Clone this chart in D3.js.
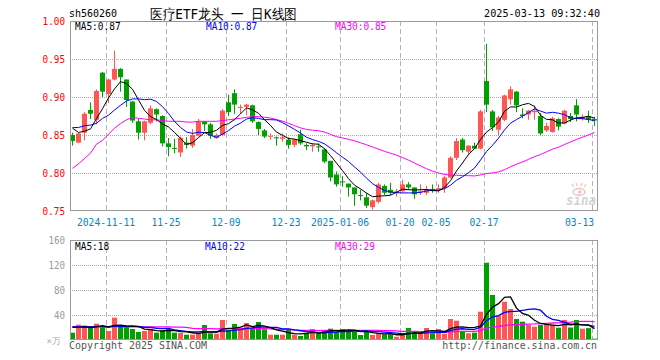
<!DOCTYPE html>
<html>
<head>
<meta charset="utf-8">
<script src="https://cdn.jsdelivr.net/npm/d3@7"></script>
<style>
  body { margin: 0; background: #fff; }
  svg { display: block; }
  text { font-family: "DejaVu Sans Mono", "Liberation Mono", monospace; }
</style>
</head>
<body>
<div id="chart"></div>
<script>
// trading days shown on the chart
var dates = [
  "2024-11-01","2024-11-04","2024-11-05","2024-11-06","2024-11-07","2024-11-08",
  "2024-11-11","2024-11-12","2024-11-13","2024-11-14","2024-11-15",
  "2024-11-18","2024-11-19","2024-11-20","2024-11-21","2024-11-22",
  "2024-11-25","2024-11-26","2024-11-27","2024-11-28","2024-11-29",
  "2024-12-02","2024-12-03","2024-12-04","2024-12-05","2024-12-06",
  "2024-12-09","2024-12-10","2024-12-11","2024-12-12","2024-12-13",
  "2024-12-16","2024-12-17","2024-12-18","2024-12-19","2024-12-20",
  "2024-12-23","2024-12-24","2024-12-25","2024-12-26","2024-12-27",
  "2024-12-30","2024-12-31","2025-01-02","2025-01-03",
  "2025-01-06","2025-01-07","2025-01-08","2025-01-09","2025-01-10",
  "2025-01-13","2025-01-14","2025-01-15","2025-01-16","2025-01-17",
  "2025-01-20","2025-01-21","2025-01-22","2025-01-23","2025-01-24",
  "2025-01-27","2025-02-05","2025-02-06","2025-02-07",
  "2025-02-10","2025-02-11","2025-02-12","2025-02-13","2025-02-14",
  "2025-02-17","2025-02-18","2025-02-19","2025-02-20","2025-02-21",
  "2025-02-24","2025-02-25","2025-02-26","2025-02-27","2025-02-28",
  "2025-03-03","2025-03-04","2025-03-05","2025-03-06","2025-03-07",
  "2025-03-10","2025-03-11","2025-03-12","2025-03-13"
];

var openP = [
  0.850,0.840,0.853,0.883,0.870,0.932,0.904,0.923,0.937,0.923,0.894,
  0.868,0.853,0.866,0.884,0.875,0.839,0.833,0.827,0.840,0.836,
  0.849,0.868,0.864,0.846,0.850,0.893,0.905,0.886,0.887,0.889,
  0.867,0.856,0.848,0.847,0.845,0.844,0.837,0.851,0.837,0.835,
  0.835,0.831,0.816,0.798,0.789,0.786,0.781,0.771,0.768,0.755,
  0.762,0.783,0.778,0.774,0.776,0.785,0.781,0.776,0.774,0.779,
  0.778,0.780,0.794,0.820,0.844,0.828,0.836,0.832,0.921,0.881,
  0.857,0.870,0.897,0.907,0.877,0.877,0.880,0.875,0.856,0.854,
  0.871,0.865,0.875,0.889,0.871,0.874,0.871
];
var highP = [
  0.853,0.853,0.880,0.893,0.910,0.933,0.924,0.961,0.938,0.923,0.895,
  0.871,0.869,0.889,0.885,0.876,0.846,0.845,0.848,0.847,0.858,
  0.871,0.868,0.866,0.852,0.884,0.903,0.910,0.890,0.891,0.890,
  0.868,0.858,0.852,0.848,0.852,0.847,0.845,0.857,0.839,0.839,
  0.839,0.833,0.816,0.802,0.796,0.786,0.781,0.778,0.774,0.765,
  0.787,0.785,0.787,0.779,0.791,0.788,0.781,0.785,0.783,0.785,
  0.785,0.796,0.822,0.846,0.846,0.837,0.840,0.883,0.970,0.883,
  0.875,0.903,0.914,0.908,0.885,0.883,0.889,0.879,0.866,0.874,
  0.872,0.883,0.879,0.897,0.877,0.882,0.874
];
var lowP = [
  0.836,0.839,0.843,0.871,0.864,0.900,0.892,0.922,0.907,0.887,0.866,
  0.844,0.843,0.864,0.868,0.835,0.822,0.826,0.821,0.832,0.833,
  0.848,0.855,0.845,0.845,0.849,0.875,0.878,0.878,0.876,0.866,
  0.850,0.846,0.844,0.836,0.841,0.832,0.834,0.837,0.830,0.828,
  0.828,0.813,0.789,0.782,0.782,0.769,0.757,0.764,0.754,0.752,
  0.760,0.771,0.771,0.769,0.774,0.778,0.766,0.771,0.771,0.774,
  0.774,0.774,0.793,0.817,0.827,0.823,0.832,0.831,0.880,0.855,
  0.849,0.868,0.890,0.880,0.872,0.870,0.870,0.850,0.854,0.853,
  0.856,0.864,0.867,0.868,0.869,0.866,0.862
];
var closeP = [
  0.842,0.852,0.878,0.878,0.908,0.907,0.923,0.937,0.926,0.896,0.869,
  0.853,0.868,0.885,0.877,0.839,0.834,0.832,0.846,0.837,0.850,
  0.868,0.864,0.849,0.850,0.882,0.880,0.890,0.887,0.890,0.868,
  0.858,0.848,0.849,0.846,0.847,0.837,0.844,0.839,0.835,0.837,
  0.834,0.815,0.794,0.785,0.788,0.781,0.772,0.770,0.757,0.764,
  0.785,0.774,0.774,0.776,0.785,0.781,0.772,0.776,0.778,0.777,
  0.780,0.794,0.820,0.842,0.830,0.836,0.832,0.881,0.890,0.860,
  0.873,0.902,0.910,0.889,0.875,0.882,0.882,0.852,0.862,0.872,
  0.861,0.882,0.871,0.877,0.874,0.870,0.869
];
// volume, 万手
var volume = [
  11.7,24.5,23.2,20.3,26.1,20.3,14.4,35.7,21.3,20.8,17.6,
  12.8,14.4,18.1,11.7,14.9,18.1,11.7,11.2,8.5,8.5,
  10.7,24,10.7,10.1,32,16,25.6,19.7,27.2,17.6,
  28.8,17.1,8.5,8.5,8.5,17.1,8.5,6.4,11.7,17.6,
  10.7,16,18.1,13.3,17.6,16,13.3,8,13.3,8,
  10.7,9.1,9.1,5.3,8,19.2,14.4,10.7,19.2,10.7,
  17.6,10.1,33.6,30.9,13.3,10.7,11.7,45.3,123.7,72,
  38.4,61.3,49.6,33.6,29.3,24,21.3,24,25.6,24,
  19.7,32,20,32,18.1,19,2.1
];

// sessions before the visible range (estimated from where the MA lines start)
var prevClose = [0.850,0.855,0.870,0.884,0.843,0.880,0.870,0.863,0.840];
var prevVolume = [22,25,21,19,24,20,16,40,22,21,18,14,15,19,13,16,20,14,24,48,
                  22,19,24,20,21.5,24,20,27,18.8];
// MA30 of price for the first sessions
var ma30Early = [0.806,0.812,0.819,0.826,0.838,0.843,0.851,0.859,0.865,0.870,0.873,
                 0.872,0.871,0.870,0.870,0.869,0.868,0.868,0.868,0.867,0.867,
                 0.868,0.868,0.868,0.868,0.869,0.870,0.871,0.872];

var tickDates = ["2024-11-11","2024-11-25","2024-12-09","2024-12-23","2025-01-06",
                 "2025-01-20","2025-02-05","2025-02-17","2025-03-13"];
var tickLabels = ["2024-11-11","11-25","12-09","12-23","2025-01-06",
                  "01-20","02-05","02-17","03-13"];
var priceTicks = [1.00,0.95,0.90,0.85,0.80,0.75];
var volTicks = [160,120,80,40];

var stockCode = "sh560260";
var chartTitle = "医疗ETF龙头 一 日K线图";
var timeStamp = "2025-03-13 09:32:40";

// moving average with some history in front
function movingAvg(values, history, n) {
  var all = history.concat(values);
  return values.map(function(v, i) {
    var end = history.length + i + 1;
    if (end < n) return null;
    return d3.mean(all.slice(end - n, end));
  });
}

var ma5 = movingAvg(closeP, prevClose, 5);
var ma10 = movingAvg(closeP, prevClose, 10);
var ma30 = closeP.map(function(c, i) {
  return i < ma30Early.length ? ma30Early[i] : d3.mean(closeP.slice(i - 29, i + 1));
});
var vma5 = movingAvg(volume, prevVolume, 5);
var vma10 = movingAvg(volume, prevVolume, 10);
var vma30 = movingAvg(volume, prevVolume, 30);

// layout
var svgWidth = 660, svgHeight = 360;
var left = 70, right = 598;
var pTop = 21, pBottom = 211;
var vTop = 240, vBottom = 340;
var red = "#ff5555", green = "#00a000";

var svg = d3.select("#chart").append("svg")
  .attr("width", svgWidth)
  .attr("height", svgHeight);

var x = d3.scaleBand().domain(dates).range([left, right])
  .paddingInner(1 / 6).paddingOuter(1 / 12);
var y = d3.scaleLinear().domain([0.75, 1.0]).range([pBottom, pTop]);
var yv = d3.scaleLinear().domain([0, 160]).range([vBottom, vTop]);

function bx(d) { return Math.floor(x(d)); }
function cx(d) { return Math.floor(x(d)) + 2.5; }

function mono(sel, cw) {
  sel.attr("textLength", function() { return this.textContent.length * cw; })
    .attr("lengthAdjust", "spacingAndGlyphs");
}

// grid
function grid(top, bottom, yScale, values) {
  svg.append("g").selectAll("line").data(values).enter().append("line")
    .attr("x1", left).attr("x2", right)
    .attr("y1", d => Math.round(yScale(d)) + 0.5)
    .attr("y2", d => Math.round(yScale(d)) + 0.5)
    .attr("stroke", "#aaa").attr("stroke-dasharray", "1,1");
  svg.append("g").selectAll("line").data(tickDates).enter().append("line")
    .attr("x1", d => bx(d) + 0.5).attr("x2", d => bx(d) + 0.5)
    .attr("y1", top).attr("y2", bottom)
    .attr("stroke", "#b4b4b4").attr("stroke-dasharray", "5,3");
}
grid(pTop, pBottom, y, [0.95, 0.90, 0.85, 0.80]);
grid(vTop, vBottom, yv, [120, 80, 40]);

// sina watermark
var logo = svg.append("g");
logo.append("ellipse").attr("cx", 579).attr("cy", 192).attr("rx", 6).attr("ry", 3.5)
  .attr("fill", "none").attr("stroke", "#f5c0c0").attr("stroke-width", 1.5);
logo.append("circle").attr("cx", 580).attr("cy", 192).attr("r", 1.8).attr("fill", "#f5c0c0");
logo.append("path").attr("d", "M574,187 L572,184 M577,186 L576,183 M581,186 L582,183 M584,187 L586,184")
  .attr("stroke", "#f5c0c0").attr("stroke-width", 1.2);
logo.append("text").attr("x", 566).attr("y", 205)
  .attr("font-family", "'Liberation Sans', Arial, sans-serif")
  .attr("font-style", "italic").attr("font-weight", "bold").attr("font-size", 14)
  .attr("fill", "#d4d4d4").attr("textLength", 30).attr("lengthAdjust", "spacingAndGlyphs")
  .text("sina");

// candles
var idx = d3.range(dates.length);
var candles = svg.append("g").selectAll("g").data(idx).enter().append("g");
candles.append("line")
  .attr("x1", i => cx(dates[i])).attr("x2", i => cx(dates[i]))
  .attr("y1", i => y(highP[i])).attr("y2", i => y(lowP[i]))
  .attr("stroke", i => closeP[i] >= openP[i] ? red : green);
candles.append("rect")
  .attr("x", i => bx(dates[i]))
  .attr("width", 5)
  .attr("y", i => y(Math.max(openP[i], closeP[i])))
  .attr("height", i => Math.max(1, Math.abs(y(openP[i]) - y(closeP[i]))))
  .attr("fill", i => closeP[i] >= openP[i] ? red : green);

// volume bars
svg.append("g").selectAll("rect").data(idx).enter().append("rect")
  .attr("x", i => bx(dates[i]))
  .attr("width", 5)
  .attr("y", i => yv(volume[i]))
  .attr("height", i => vBottom - yv(volume[i]))
  .attr("fill", i => closeP[i] >= openP[i] ? red : green);

// MA lines
function maLine(values, yScale, color, w) {
  var line = d3.line()
    .defined(d => d[1] != null)
    .x(d => cx(d[0]))
    .y(d => yScale(d[1]));
  svg.append("path")
    .datum(dates.map((d, i) => [d, values[i]]))
    .attr("d", line)
    .attr("fill", "none")
    .attr("stroke", color)
    .attr("stroke-width", w);
}
maLine(ma30, y, "#ff00ff", 1);
maLine(ma10, y, "#0000ff", 1);
maLine(ma5, y, "#000000", 1);
maLine(vma30, yv, "#ff00ff", 1.3);
maLine(vma10, yv, "#0000ff", 1.3);
maLine(vma5, yv, "#000000", 1.3);

// frames
svg.append("rect").attr("x", left + 0.5).attr("y", pTop + 0.5)
  .attr("width", right - left - 1).attr("height", pBottom - pTop - 1)
  .attr("fill", "none").attr("stroke", "#999");
svg.append("rect").attr("x", left + 0.5).attr("y", vTop + 0.5)
  .attr("width", right - left - 1).attr("height", vBottom - vTop - 1)
  .attr("fill", "none").attr("stroke", "#999");

// axes
var yAxis = svg.append("g")
  .attr("transform", `translate(${left}, 0)`)
  .call(d3.axisLeft(y).tickValues(priceTicks).tickFormat(d3.format(".2f")).tickSize(0).tickPadding(5));
yAxis.select(".domain").remove();
yAxis.selectAll("text").attr("fill", "#ff0000").attr("font-size", 10)
  .attr("font-family", "DejaVu Sans Mono, monospace").call(mono, 5.6);

var vAxis = svg.append("g")
  .attr("transform", `translate(${left}, 0)`)
  .call(d3.axisLeft(yv).tickValues(volTicks).tickSize(0).tickPadding(5));
vAxis.select(".domain").remove();
vAxis.selectAll("text").attr("fill", "#999").attr("font-size", 10)
  .attr("font-family", "DejaVu Sans Mono, monospace").call(mono, 5.5);
svg.append("text").attr("x", 61).attr("y", 344).attr("text-anchor", "end")
  .attr("font-family", "'Noto Sans CJK SC', sans-serif").attr("font-size", 9)
  .attr("fill", "#aaa").text("×万");

var xAxis = svg.append("g")
  .attr("transform", `translate(-3, ${pBottom})`)
  .call(d3.axisBottom(x).tickValues(tickDates)
    .tickFormat((d, i) => tickLabels[i]).tickSize(0));
xAxis.select(".domain").remove();
xAxis.selectAll("text")
  .attr("y", 14.5).attr("dy", 0)
  .attr("fill", "#0088cc").attr("font-size", 11)
  .attr("font-family", "DejaVu Sans Mono, monospace").call(mono, 5.8);
xAxis.selectAll(".tick").filter((d, i) => i === tickDates.length - 1)
  .select("text").attr("text-anchor", "end").attr("x", 2);

// header
function label(txt, px, py, color, cw, size, anchor) {
  svg.append("text").attr("x", px).attr("y", py)
    .attr("fill", color).attr("font-size", size || 10)
    .attr("text-anchor", anchor || "start")
    .text(txt).call(mono, cw);
}
label(stockCode, 69, 17, "#000", 6, 10.5);
svg.append("text").attr("x", 150).attr("y", 19)
  .attr("font-family", "'Noto Sans CJK SC', sans-serif").attr("font-size", 14)
  .attr("fill", "#000").attr("textLength", 147).attr("lengthAdjust", "spacingAndGlyphs")
  .text(chartTitle);
label(timeStamp, 600, 17, "#000", 6.1, 10.5, "end");

var f2 = d3.format(".2f"), f0 = d3.format(".0f");
var last = dates.length - 1;
label("MA5:" + f2(ma5[last]), 75, 30, "#000", 5.7);
label("MA10:" + f2(ma10[last]), 206, 30, "#0000ff", 5.7);
label("MA30:" + f2(ma30[last]), 335, 30, "#ff00ff", 5.7);
label("MA5:" + f0(vma5[last]), 75, 250, "#000", 5.7);
label("MA10:" + f0(vma10[last]), 205, 250, "#0000ff", 5.7);
label("MA30:" + f0(vma30[last]), 335, 250, "#ff00ff", 5.7);

label("Copyright 2025 SINA.COM", 69, 349, "#555", 6, 11);
label("http://finance.sina.com.cn", 597, 349, "#555", 5.95, 11, "end");
</script>
</body>
</html>
